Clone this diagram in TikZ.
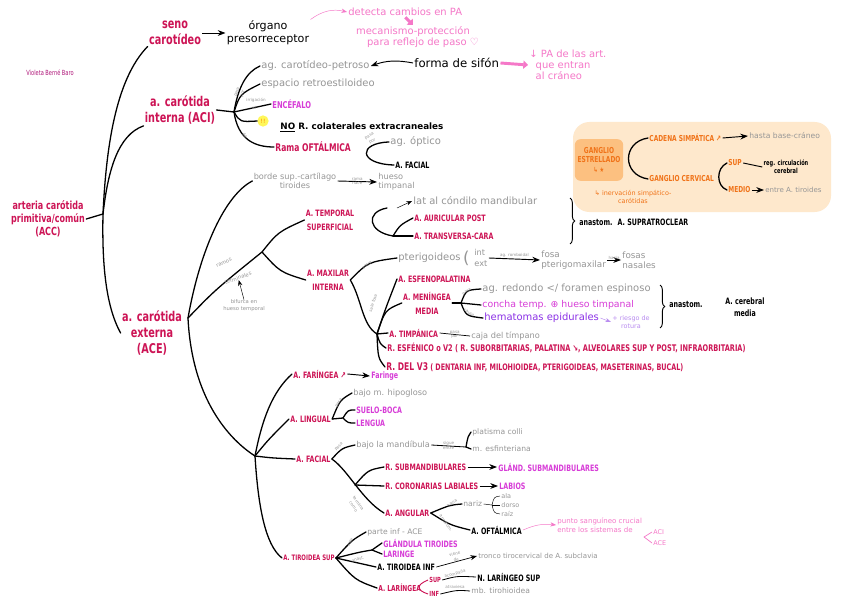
\documentclass[tikz,border=0pt]{standalone}
\usepackage{fontspec}
\setmainfont{DejaVu Sans}
\newfontfamily\estrecha{DejaVu Sans}[FakeStretch=0.72]
\usetikzlibrary{positioning,arrows.meta,decorations.pathreplacing,calc}

\definecolor{carm}{RGB}{205,20,85}
\definecolor{gris}{RGB}{150,150,150}
\definecolor{rosaC}{RGB}{245,120,200}
\definecolor{magen}{RGB}{215,60,215}
\definecolor{morado}{RGB}{140,50,230}
\definecolor{moradoL}{RGB}{185,140,240}
\definecolor{naranja}{RGB}{240,115,25}
\definecolor{cajaF}{RGB}{254,232,204}
\definecolor{gangF}{RGB}{252,192,128}
\definecolor{violeta}{RGB}{175,20,120}

\begin{document}
\begin{tikzpicture}[x=0.03cm, y=-0.03cm,
  every node/.style={inner sep=1pt},
  rama/.style={line width=1.1pt, line cap=round},
  txt/.style={anchor=west, align=left},
  grande/.style={text=carm, align=center, font=\estrecha\bfseries\fontsize{11.5}{14}\selectfont},
  art/.style={txt, text=carm, font=\estrecha\bfseries\fontsize{7.5}{12}\selectfont},
  gris/.style={txt, text=gris, font=\fontsize{8.5}{10}\selectfont},
  nota/.style={text=gris, font=\fontsize{3.5}{5}\selectfont, inner sep=0pt, align=center},
  negro/.style={txt, font=\estrecha\bfseries\fontsize{7.5}{8.5}\selectfont},
  mag/.style={txt, text=magen, font=\estrecha\bfseries\fontsize{7.5}{8.5}\selectfont},
  rosa/.style={text=rosaC, font=\fontsize{8.5}{9.5}\selectfont, align=center},
  nar/.style={txt, text=naranja, font=\estrecha\bfseries\fontsize{7}{8}\selectfont},
  flecha/.style={->, >=Stealth, thick},
  gorda/.style={rosaC, line width=2.5pt, -{Triangle[length=4pt, width=7pt]}}
]
\useasboundingbox (0,0) rectangle (848,599);
\fill[white] (0,0) rectangle (848,599);

% recuadro ganglio estrellado
\node[fill=cajaF, rounded corners=14pt, minimum width=7.74cm, minimum height=2.7cm] (caja) at (702,167) {};
\node[fill=gangF, rounded corners=5pt, minimum width=1.45cm, minimum height=1.25cm, text=naranja, font=\estrecha\bfseries\fontsize{7}{8}\selectfont, align=center] (gang) at (599,160) {GANGLIO\\ESTRELLADO\\{\fontsize{6}{6}\selectfont ↳ ★}};
\node[text=naranja, font=\fontsize{5.5}{6.5}\selectfont, align=center] (inerv) at (633,197) {↳ inervación simpático-\\carótidas};
\node[nar] (cadena) at (648,138) {CADENA SIMPÁTICA ↗};
\node[gris, font=\fontsize{6.5}{7.5}\selectfont] (base) at (748,136) {hasta base-cráneo};
\node[nar] (gcerv) at (648,179) {GANGLIO CERVICAL};
\node[nar] (supO) at (727,163) {SUP};
\node[nar] (medio) at (727,190) {MEDIO};
\node[font=\estrecha\bfseries\fontsize{6}{6.5}\selectfont, align=center] (circ) at (786,167) {reg. circulación\\cerebral};
\node[gris, font=\fontsize{6}{7}\selectfont] (tiroides) at (764,190) {entre A. tiroides};
\draw[flecha] (cadena.east) -- (base.west);
\draw[rama] (cadena.west) .. controls (622,142) and (622,175) .. (gcerv.west);
\draw[rama] (supO.west) .. controls (716,168) and (716,186) .. (medio.west);
\draw[thick] (supO.east) -- (circ.west);
\draw[flecha] (medio.east) -- (tiroides.west);

% cabecera
\node[text=violeta, font=\estrecha\fontsize{6}{7}\selectfont] (autora) at (50,73) {Violeta Berné Baro};
\node[grande] (seno) at (175,33) {seno\\carotídeo};
\node[font=\fontsize{9.5}{11}\selectfont, align=center] (organo) at (268,33) {órgano\\presorreceptor};
\node[rosa, anchor=west] (detecta) at (347,12) {detecta cambios en PA};
\node[rosa] (mecan) at (413,37) {mecanismo-protección\\\hspace{2em}para reflejo de paso ♡};
\node[txt, font=\fontsize{10}{11}\selectfont] (sifon) at (413,63) {forma de sifón};
\node[rosa, align=left, anchor=west] (pa) at (528,65) {↓ PA de las art.\\\ \ que entran\\\ \ al cráneo};
\draw[flecha] (seno) -- (organo);
\draw[rosaC, ->, >=Stealth] (organo.north east) to[bend left=25] (detecta.west);
\draw[gorda] (detecta.south) -- (mecan.north);
\draw[gorda] (sifon.east) -- (pa.west);

% carotida interna
\node[grande] (aci) at (180,110) {a. carótida\\interna (ACI)};
\node[gris] (agcp) at (260,66) {ag. carotídeo-petroso};
\node[gris] (esp) at (260,84) {espacio retroestiloideo};
\node[mag, font=\estrecha\bfseries\fontsize{8}{9}\selectfont] (enc) at (271,104) {ENCÉFALO};
\node[circle, fill=yellow!65, text=orange, font=\fontsize{5}{5}\selectfont, inner sep=1.5pt] (alerta) at (263,121) {!!};
\node[txt, font=\bfseries\fontsize{7.5}{9}\selectfont] (nocol) at (279,127) {\underline{NO} R. colaterales extracraneales};
\node[art, font=\estrecha\bfseries\fontsize{9}{10}\selectfont] (oft) at (274,147) {Rama OFTÁLMICA};
\node[gris] (optico) at (389,142) {ag. óptico};
\node[negro] (afacO) at (394,165) {A. FACIAL};
\coordinate (hubA) at (234,112);
\draw[flecha] (sifon.west) to[bend right=15] (agcp.east);
\draw[rama] (aci.east) -- (hubA);
\draw[rama] (hubA) .. controls (238,88) and (246,72) .. (agcp.west);
\draw[rama] (hubA) .. controls (240,94) .. (esp.west);
\draw[rama] (hubA) -- (enc.west);
\draw[rama] (hubA) .. controls (240,122) .. (alerta.west);
\draw[rama] (hubA) .. controls (238,140) and (255,147) .. (oft.west);
\draw[rama] (optico.west) .. controls (358,143) and (358,164) .. (afacO.west);
\node[nota, rotate=70] (nA1) at (240,93) {pasa\\por};
\node[nota] (nA2) at (256,100) {irrigación};
\node[nota] (nA3) at (254,108) {al};
\node[nota, rotate=-45] (nA4) at (245,135) {da};
\node[nota, rotate=30] (nA5) at (371,139) {pasa\\por};

% carotida comun
\node[grande, font=\estrecha\bfseries\fontsize{9.5}{11}\selectfont] (acc) at (48,219) {arteria carótida\\primitiva/común\\(ACC)};
\node[grande] (ace) at (152,333) {a. carótida\\externa\\(ACE)};
\coordinate (hubC) at (103,214);
\draw[rama] (acc.east) -- (hubC);
\draw[rama] (hubC) .. controls (106,150) and (115,80) .. (seno.south west);
\draw[rama] (hubC) .. controls (108,170) and (118,135) .. (aci.south west);
\draw[rama] (hubC) .. controls (102,260) and (105,305) .. (ace.west);

% carotida externa: ramos terminales
\coordinate (hubE) at (188,318);
\coordinate (hubT) at (262,252);
\node[gris, align=center, anchor=center, font=\fontsize{7}{8}\selectfont] (borde) at (295,181) {borde sup.-cartílago\\tiroides};
\node[gris, font=\fontsize{7}{8}\selectfont] (hueso) at (377,182) {hueso\\timpanal};
\draw[flecha] (borde.east) -- (hueso.west) node[nota, midway, above] (nB1) {rama} node[nota, midway, below] (nB2) {nace};
\draw[rama] (hubE) .. controls (200,250) and (225,195) .. (borde.west);
\draw[rama] (hubE) .. controls (215,290) .. (hubT);
\node[nota, rotate=25, font=\fontsize{4.5}{5}\selectfont] (ramos) at (224,263) {ramos};
\node[nota, rotate=20, font=\fontsize{4.5}{5}\selectfont] (termin) at (238,278) {terminales};
\node[nota, font=\fontsize{4.5}{6}\selectfont] (bif) at (244,306) {bifurca en\\hueso temporal};
\draw[gris, ->, >=Stealth] (bif.north) -- (termin.south);
\node[art, align=center, anchor=center] (temp) at (330,220) {A. TEMPORAL\\SUPERFICIAL};
\node[art, align=center, anchor=center] (maxi) at (328,280) {A. MAXILAR\\INTERNA};
\draw[rama] (hubT) .. controls (278,232) .. (temp.west);
\draw[rama] (hubT) .. controls (280,272) .. (maxi.west);

% temporal superficial
\node[gris] (lat) at (412,201) {lat al cóndilo mandibular};
\node[art] (auric) at (413,218) {A. AURICULAR POST};
\node[art] (transv) at (413,236) {A. TRANSVERSA-CARA};
\coordinate (tsA) at (387,208);
\coordinate (tsJ) at (393,236);
\coordinate (latA) at (397,208);
\draw[rama] (tsA) .. controls (365,212) and (368,232) .. (tsJ);
\draw[rama] (tsJ) .. controls (400,225) .. (auric.west);
\draw[rama] (tsJ) -- (transv.west);
\draw[gris, ->, >=Stealth] (latA) -- (lat.west);
\coordinate (llT1) at (570,198);
\coordinate (llT2) at (570,244);
\draw[thick, decorate, decoration={brace, amplitude=4pt}] (llT1) -- (llT2);
\node[negro] (supratr) at (578,222) {anastom. \ A. SUPRATROCLEAR};

% maxilar interna
\node[gris] (pterig) at (397,258) {pterigoideos};
\node[gris, font=\fontsize{14}{14}\selectfont, inner sep=0pt] (parIE) at (463,258) {(};
\node[gris, font=\fontsize{7}{9}\selectfont] (intext) at (473,258) {int\\ext};
\node[gris, font=\fontsize{7.5}{8.5}\selectfont] (fosa) at (540,260) {fosa\\pterigomaxilar};
\node[gris, font=\fontsize{7.5}{8.5}\selectfont] (nasal) at (621,260) {fosas\\nasales};
\draw[flecha] (intext.east) -- (fosa.west) node[nota, midway, above=1pt] (nX1) {ag. romboidal};
\draw[flecha] (fosa.east) -- (nasal.west) node[nota, midway, above] (nX2) {hacia};
\node[art] (esfeno) at (397,279) {A. ESFENOPALATINA};
\node[art, align=center, anchor=center] (mening) at (427,303) {A. MENÍNGEA\\MEDIA};
\node[gris] (redondo) at (481,289) {ag. redondo </ foramen espinoso};
\node[txt, text=magen, font=\fontsize{8}{9}\selectfont] (concha) at (481,305) {concha temp. ⊕ hueso timpanal};
\node[txt, text=morado, font=\fontsize{8.5}{9}\selectfont] (hemat) at (483,318) {hematomas epidurales};
\node[text=moradoL, font=\fontsize{5.5}{6.5}\selectfont, align=center] (riesgo) at (631,322) {+ riesgo de\\rotura};
\draw[moradoL, ->, >=Stealth] (hemat.east) -- (riesgo.west);
\coordinate (hubM) at (461,303);
\draw[rama] (mening.east) -- (hubM);
\draw[rama] (hubM) .. controls (466,290) .. (redondo.west);
\draw[rama] (hubM) -- (concha.west);
\draw[rama] (hubM) .. controls (466,316) .. (hemat.west);
\node[nota, rotate=35] (nM1) at (467,292) {pasa};
\node[nota, rotate=-35] (nM2) at (469,313) {causa};
\coordinate (llM1) at (660,285);
\coordinate (llM2) at (660,328);
\draw[thick, decorate, decoration={brace, amplitude=4pt}] (llM1) -- (llM2);
\node[negro] (anastM) at (668,304) {anastom.};
\node[font=\estrecha\bfseries\fontsize{7.5}{10}\selectfont, align=center] (cerebral) at (745,307) {A. cerebral\\media};
\node[art] (timp) at (388,333) {A. TIMPÁNICA};
\node[gris, font=\fontsize{7}{8}\selectfont] (cajaT) at (470,336) {caja del tímpano};
\draw[line width=0.6pt] (timp.east) -- (cajaT.west) node[nota, midway, above] (nT1) {pasa} node[nota, midway, below] (nT2) {por};
\node[art, font=\estrecha\bfseries\fontsize{7.8}{8}\selectfont] (v2) at (386,348) {R. ESFÉNICO o V2 ( R. SUBORBITARIAS, PALATINA ↘, ALVEOLARES SUP Y POST, INFRAORBITARIA)};
\node[art, font=\estrecha\bfseries\fontsize{7.6}{8}\selectfont] (v3) at (385,367) {{\fontsize{9}{9}\selectfont R. DEL V3} ( DENTARIA INF, MILOHIOIDEA, PTERIGOIDEAS, MASETERINAS, BUCAL)};
\coordinate (hubV) at (377,334);
\draw[rama] (maxi.east) .. controls (368,262) .. (pterig.west);
\draw[rama] (maxi.east) .. controls (362,300) and (362,325) .. (hubV);
\draw[rama] (hubV) .. controls (385,310) .. (esfeno.west);
\draw[rama] (hubV) .. controls (385,310) .. (mening.west);
\draw[rama] (hubV) -- (timp.west);
\draw[rama] (hubV) .. controls (380,344) .. (v2.west);
\draw[rama] (hubV) .. controls (378,358) .. (v3.west);
\node[nota, rotate=35] (nX3) at (367,265) {entre};
\node[nota, rotate=72] (nX4) at (373,303) {sale fosa};

% ramas colaterales de la ACE
\coordinate (hubE2) at (255,456);
\node[art] (faring) at (292,374) {A. FARÍNGEA ↗};
\node[mag] (faringe) at (370,376) {Faringe};
\node[art] (lingual) at (289,419) {A. LINGUAL};
\node[art] (facial) at (295,459) {A. FACIAL};
\node[art, font=\estrecha\bfseries\fontsize{6.4}{7}\selectfont] (tirsup) at (282,558) {A. TIROIDEA SUP};
\draw[flecha] (faring.east) -- (faringe.west);
\draw[rama] (hubE) .. controls (192,400) and (230,440) .. (hubE2);
\draw[rama] (hubE2) .. controls (262,420) and (272,392) .. (faring.west);
\draw[rama] (hubE2) .. controls (268,440) .. (lingual.west);
\draw[rama] (hubE2) .. controls (272,458) .. (facial.west);
\draw[rama] (hubE2) .. controls (258,505) and (265,545) .. (tirsup.west);

% lingual
\node[gris, font=\fontsize{7}{8}\selectfont] (hipo) at (352,393) {bajo m. hipogloso};
\node[mag] (suelo) at (355,410) {SUELO-BOCA};
\node[mag] (lengua) at (355,423) {LENGUA};
\coordinate (hubL) at (343,418);
\draw[rama] (lingual.east) .. controls (340,400) .. (hipo.west);
\draw[rama] (lingual.east) -- (hubL);
\draw[rama] (hubL) .. controls (348,410) .. (suelo.west);
\draw[rama] (hubL) .. controls (348,423) .. (lengua.west);
\node[nota, rotate=60] (nL1) at (339,403) {pasa};

% facial
\node[gris, font=\fontsize{7}{8}\selectfont] (bajoM) at (355,445) {bajo la mandíbula};
\node[gris, font=\fontsize{6.5}{7.5}\selectfont] (platisma) at (471,432) {platisma colli};
\node[gris, font=\fontsize{6.5}{7.5}\selectfont] (esfint) at (471,449) {m. esfinteriana};
\coordinate (hubF2) at (466,447);
\draw[line width=0.7pt] (bajoM.east) -- (hubF2) node[nota, midway, above] (nF1) {sigue} node[nota, midway, below] (nF2) {entre};
\draw[rama] (hubF2) .. controls (468,436) .. (platisma.west);
\draw[rama] (hubF2) -- (esfint.west);
\draw[rama] (facial.east) .. controls (342,448) .. (bajoM.west);
\node[nota, rotate=45] (nF3) at (339,447) {pasa};
\node[art] (subm) at (384,467) {R. SUBMANDIBULARES};
\node[mag] (glandS) at (497,467) {GLÁND. SUBMANDIBULARES};
\node[art] (coron) at (384,486) {R. CORONARIAS LABIALES};
\node[mag] (labios) at (498,486) {LABIOS};
\node[art] (angular) at (384,513) {A. ANGULAR};
\draw[flecha] (subm.east) -- (glandS.west);
\draw[flecha] (coron.east) -- (labios.west);
\coordinate (hubF) at (355,485);
\draw[rama] (facial.east) .. controls (348,470) and (362,500) .. (angular.west);
\draw[rama] (hubF) .. controls (368,470) .. (subm.west);
\draw[rama] (hubF) -- (coron.west);
\node[nota, rotate=-55] (nF4) at (356,505) {termina\\como};

% angular
\node[gris, font=\fontsize{6.5}{7}\selectfont] (nariz) at (462,504) {nariz};
\node[gris, font=\fontsize{5.5}{6}\selectfont] (ala) at (500,496) {ala};
\node[gris, font=\fontsize{5.5}{6}\selectfont] (dorso) at (500,505) {dorso};
\node[gris, font=\fontsize{5.5}{6}\selectfont] (raiz) at (500,514) {raíz};
\node[negro] (oftA) at (470,530) {A. OFTÁLMICA};
\coordinate (hubN) at (492,505);
\draw[gris] (nariz.east) -- (hubN);
\draw[gris] (hubN) .. controls (494,497) .. (ala.west);
\draw[gris] (hubN) -- (dorso.west);
\draw[gris] (hubN) .. controls (494,513) .. (raiz.west);
\draw[rama] (angular.east) .. controls (450,505) .. (nariz.west);
\draw[rama] (angular.east) .. controls (450,525) .. (oftA.west);
\node[nota, rotate=35] (nN1) at (452,503) {hacia};
\node[nota, rotate=-55] (nN2) at (446,523) {anastom.};
\node[rosa, align=left, anchor=west, font=\fontsize{6}{8}\selectfont] (punto) at (556,525) {punto sanguíneo crucial\\entre los sistemas de};
\node[rosa, font=\fontsize{5.5}{6}\selectfont, anchor=west] (aciN) at (652,532) {ACI};
\node[rosa, font=\fontsize{5.5}{6}\selectfont, anchor=west] (aceN) at (652,543) {ACE};
\coordinate (vAC) at (644,537);
\draw[rosaC, line width=0.6pt] (aciN.west) -- (vAC) -- (aceN.west);
\draw[rosaC, ->, >=Stealth] (oftA.east) to[bend left=15] (punto.west);

% tiroidea superior
\node[gris, font=\fontsize{6.5}{7}\selectfont] (parte) at (366,532) {parte inf - ACE};
\node[mag] (glandT) at (382,543) {GLÁNDULA TIROIDES};
\node[mag] (laringe) at (382,554) {LARINGE};
\node[negro] (tirinf) at (376,567) {A. TIROIDEA INF};
\node[gris, font=\fontsize{6}{7}\selectfont] (tronco) at (477,556) {tronco tirocervical de A. subclavia};
\node[art, font=\estrecha\bfseries\fontsize{7}{8}\selectfont] (laring) at (377,588) {A. LARÍNGEA};
\node[art, font=\estrecha\bfseries\fontsize{6}{7}\selectfont] (supL) at (428,580) {SUP};
\node[art, font=\estrecha\bfseries\fontsize{6}{7}\selectfont] (infL) at (428,594) {INF};
\node[negro] (nls) at (476,577) {N. LARÍNGEO SUP};
\node[gris, font=\fontsize{6.5}{7}\selectfont] (mbt) at (470,591) {mb. tirohioidea};
\coordinate (hubG) at (372,550);
\draw[rama] (tirsup.east) .. controls (352,540) .. (parte.west);
\draw[rama] (tirsup.east) .. controls (360,552) .. (hubG);
\draw[rama] (hubG) -- (glandT.west);
\draw[rama] (hubG) -- (laringe.west);
\draw[rama] (tirsup.east) -- (tirinf.west);
\draw[rama] (tirsup.east) .. controls (355,580) .. (laring.west);
\draw[->, >=Stealth, line width=0.6pt] (tirinf.east) -- (tronco.west) node[nota, midway, above, sloped] (nG1) {viene\\de};
\draw[carm, thick] (supL.west) .. controls (416,585) and (416,590) .. (infL.west);
\draw[line width=0.7pt] (supL.east) .. controls (457,576) .. (nls.west);
\draw[line width=0.7pt] (infL.east) .. controls (457,590) .. (mbt.west);
\node[nota, rotate=15] (nG2) at (455,574) {acompaña};
\node[nota] (nG3) at (455,587) {atraviesa};
\node[nota, rotate=60] (nG4) at (350,542) {sale};
\node[nota, rotate=15] (nG5) at (358,559) {anast.};
\end{tikzpicture}
\end{document}
